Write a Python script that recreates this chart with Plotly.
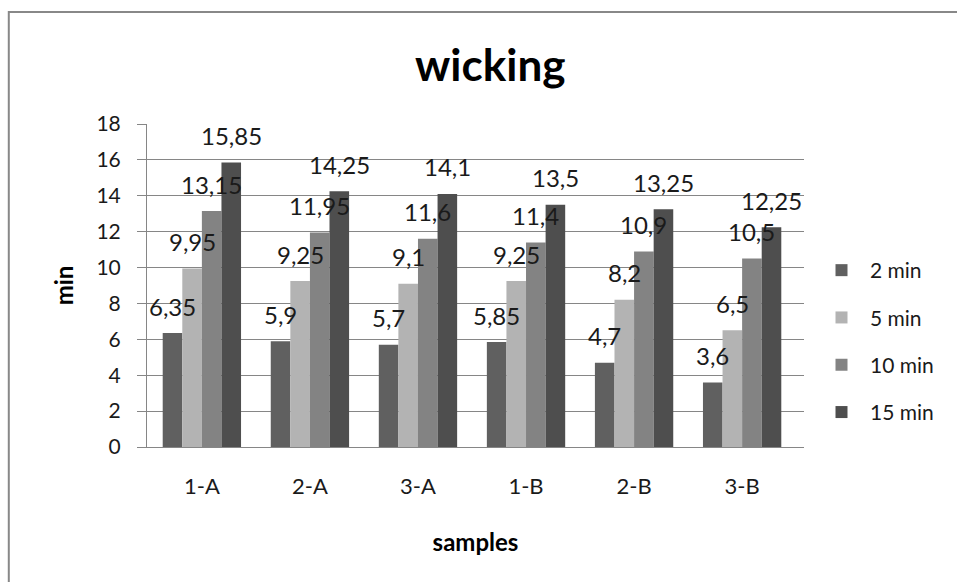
import plotly.graph_objects as go

categories = ["1-A", "2-A", "3-A", "1-B", "2-B", "3-B"]
series_names = ["2 min", "5 min", "10 min", "15 min"]
v2 = [6.35, 5.9, 5.7, 5.85, 4.7, 3.6]
v5 = [9.95, 9.25, 9.1, 9.25, 8.2, 6.5]
v10 = [13.15, 11.95, 11.6, 11.4, 10.9, 10.5]
v15 = [15.85, 14.25, 14.1, 13.5, 13.25, 12.25]
series_values = [v2, v5, v10, v15]
colors = ["#606060", "#b3b3b3", "#838383", "#4e4e4e"]
yticks = [0, 2, 4, 6, 8, 10, 12, 14, 16, 18]

FONT = "Lato"
BARGAP = 0.275

fig = go.Figure()
for i, (name, vals) in enumerate(zip(series_names, series_values)):
    fig.add_trace(go.Bar(
        x=categories, y=vals, name=name, legendgroup=name,
        marker=dict(color=colors[i], line=dict(width=0)),
    ))

def fmt(v):
    s = ("%g" % v)
    return s.replace(".", ",")

n = len(series_names)
w = (1 - BARGAP) / n
annotations = []
for j, vals in enumerate(series_values):
    for i, v in enumerate(vals):
        annotations.append(dict(
            x=i + (j - (n - 1) / 2) * w, y=v, xref="x", yref="y",
            text=fmt(v), showarrow=False, yanchor="middle", yshift=27,
            font=dict(family=FONT, size=24, color="#1a1a1a"),
        ))

annotations.append(dict(
    text="<b>wicking</b>", x=(489 - 147) / 656, y=(447 - 64) / 323,
    xref="paper", yref="paper", showarrow=False, xanchor="center", yanchor="middle",
    font=dict(family=FONT, size=44, color="#000000"),
))

fig.update_layout(
    width=957, height=582,
    margin=dict(l=147, r=153, t=124, b=135),
    paper_bgcolor="white", plot_bgcolor="white",
    barmode="group", bargap=BARGAP, bargroupgap=0,
    font=dict(family=FONT, color="#1a1a1a"),
    annotations=annotations,
    showlegend=True,
    legend=dict(
        x=1.0137, xanchor="left", y=(447 - 250) / 323, yanchor="top",
        font=dict(family=FONT, size=21, color="#1a1a1a"),
        tracegroupgap=17, itemwidth=47, bgcolor="rgba(0,0,0,0)",
    ),
    xaxis=dict(
        type="category", showline=True, linecolor="#868686", linewidth=1,
        ticks="", showgrid=False,
        tickfont=dict(family=FONT, size=22, color="#1a1a1a"),
        ticklabelstandoff=20,
        title=dict(text="<b>samples</b>", font=dict(family=FONT, size=24, color="#000000"), standoff=35),
    ),
    yaxis=dict(
        range=[0, 18], tickvals=yticks, ticktext=[str(t) for t in yticks],
        showline=True, linecolor="#868686", linewidth=1,
        showgrid=True, gridcolor="#868686", gridwidth=1,
        ticks="outside", ticklen=9, tickcolor="#868686",
        tickfont=dict(family=FONT, size=21, color="#1a1a1a"),
        ticklabelstandoff=12,
        zeroline=False,
        title=dict(text="<b>min</b>", font=dict(family=FONT, size=24, color="#000000"), standoff=16),
    ),
    shapes=[dict(
        type="rect", xref="paper", yref="paper",
        x0=(9 - 147) / 656, x1=1.6, y0=-1.0, y1=(447 - 12) / 323,
        line=dict(color="#888888", width=2), fillcolor="rgba(0,0,0,0)", layer="below",
    )],
)

fig.write_html("out.html")
